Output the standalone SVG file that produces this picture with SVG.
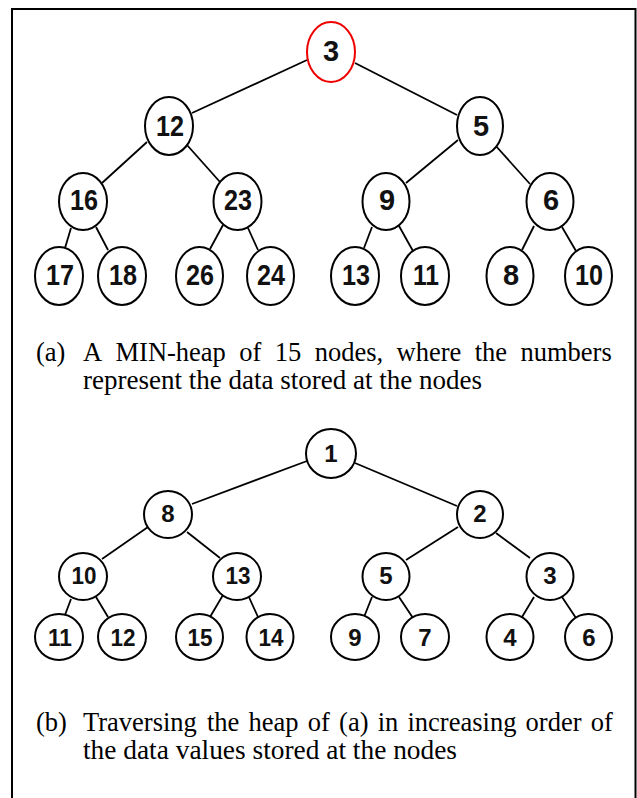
<svg xmlns="http://www.w3.org/2000/svg" width="637" height="798" viewBox="0 0 637 798">
<style>
.n{fill:#fff;stroke:#000;stroke-width:2}
.r{fill:#fff;stroke:#e00;stroke-width:2}
.t{font-family:"Liberation Sans",Arial,sans-serif;font-weight:bold;font-size:29px;text-anchor:middle;fill:#111}
.s{font-family:"Liberation Sans",Arial,sans-serif;font-weight:bold;font-size:24px;text-anchor:middle;fill:#111}
.e line{stroke:#000;stroke-width:1.8}
.c{font-family:"Liberation Serif","Times New Roman",serif;font-size:26.5px;fill:#000}
</style>
<rect x="12" y="9" width="623.5" height="810" fill="#fff" stroke="#000" stroke-width="2"/>
<g id="edges" class="e">
<line x1="307" y1="60" x2="192" y2="113"/>
<line x1="355" y1="63" x2="457" y2="115"/>
<line x1="147" y1="142" x2="102" y2="183"/>
<line x1="187" y1="145" x2="220" y2="182"/>
<line x1="458" y1="140" x2="406" y2="183"/>
<line x1="495" y1="145" x2="530" y2="184"/>
<line x1="71" y1="228" x2="65" y2="248"/>
<line x1="96" y1="227" x2="108" y2="250"/>
<line x1="223" y1="225" x2="210" y2="249"/>
<line x1="248" y1="228" x2="258" y2="250"/>
<line x1="372" y1="227" x2="364" y2="248"/>
<line x1="399" y1="226" x2="413" y2="251"/>
<line x1="534" y1="226" x2="522" y2="250"/>
<line x1="562" y1="227" x2="576" y2="251"/>
<line x1="307" y1="461" x2="192" y2="504"/>
<line x1="355" y1="463" x2="457" y2="506"/>
<line x1="148" y1="527" x2="102" y2="559"/>
<line x1="187" y1="532" x2="220" y2="558"/>
<line x1="458" y1="527" x2="406" y2="560"/>
<line x1="496" y1="533" x2="530" y2="558"/>
<line x1="71" y1="599" x2="65" y2="615"/>
<line x1="96" y1="597" x2="108" y2="617"/>
<line x1="223" y1="595" x2="210" y2="617"/>
<line x1="248" y1="595" x2="258" y2="617"/>
<line x1="372" y1="597" x2="364" y2="617"/>
<line x1="399" y1="597" x2="413" y2="618"/>
<line x1="534" y1="597" x2="522" y2="617"/>
<line x1="562" y1="597" x2="576" y2="618"/>
</g>
<g id="a3"><ellipse class="r" cx="331" cy="52" rx="24" ry="30"/><text class="t" x="331" y="61">3</text></g>
<g id="a12"><ellipse class="n" cx="169" cy="126" rx="24" ry="29"/><text class="t" x="170" y="136" textLength="28" lengthAdjust="spacingAndGlyphs">12</text></g>
<g id="a5"><ellipse class="n" cx="480" cy="126" rx="23" ry="29"/><text class="t" x="481" y="136">5</text></g>
<g id="a16"><ellipse class="n" cx="83" cy="201.5" rx="24" ry="28.5"/><text class="t" x="84" y="210" textLength="28" lengthAdjust="spacingAndGlyphs">16</text></g>
<g id="a23"><ellipse class="n" cx="237.5" cy="201.5" rx="24" ry="28.5"/><text class="t" x="238" y="210" textLength="28" lengthAdjust="spacingAndGlyphs">23</text></g>
<g id="a9"><ellipse class="n" cx="386" cy="201.5" rx="23.5" ry="28.5"/><text class="t" x="387" y="210">9</text></g>
<g id="a6"><ellipse class="n" cx="550" cy="201.5" rx="23.5" ry="28.5"/><text class="t" x="551" y="210">6</text></g>
<g id="a17"><ellipse class="n" cx="59" cy="276" rx="24" ry="29"/><text class="t" x="60" y="285" textLength="28" lengthAdjust="spacingAndGlyphs">17</text></g>
<g id="a18"><ellipse class="n" cx="122" cy="276" rx="24" ry="29"/><text class="t" x="123" y="285" textLength="28" lengthAdjust="spacingAndGlyphs">18</text></g>
<g id="a26"><ellipse class="n" cx="199.5" cy="276" rx="23.5" ry="29"/><text class="t" x="200" y="285" textLength="28" lengthAdjust="spacingAndGlyphs">26</text></g>
<g id="a24"><ellipse class="n" cx="270.5" cy="276" rx="23.5" ry="29"/><text class="t" x="271" y="285" textLength="28" lengthAdjust="spacingAndGlyphs">24</text></g>
<g id="a13"><ellipse class="n" cx="355" cy="276" rx="24" ry="29"/><text class="t" x="356" y="285" textLength="28" lengthAdjust="spacingAndGlyphs">13</text></g>
<g id="a11"><ellipse class="n" cx="425" cy="276" rx="24" ry="29"/><text class="t" x="426" y="285" textLength="26" lengthAdjust="spacingAndGlyphs">11</text></g>
<g id="a8"><ellipse class="n" cx="510" cy="276" rx="23.5" ry="29"/><text class="t" x="511" y="285">8</text></g>
<g id="a10"><ellipse class="n" cx="588.5" cy="276" rx="23.5" ry="29"/><text class="t" x="589" y="285" textLength="28" lengthAdjust="spacingAndGlyphs">10</text></g>
<text class="c" x="36" y="361">(a)</text>
<text class="c" y="361"><tspan x="83">A</tspan><tspan x="115.5">MIN-heap</tspan><tspan x="239.3">of</tspan><tspan x="274.8">15</tspan><tspan x="314.7">nodes,</tspan><tspan x="396.6">where</tspan><tspan x="474.7">the</tspan><tspan x="520.5">numbers</tspan></text>
<text class="c" x="83" y="389" textLength="399" lengthAdjust="spacingAndGlyphs">represent the data stored at the nodes</text>
<g id="b1"><ellipse class="n" cx="331" cy="453.5" rx="25" ry="24.5"/><text class="s" x="331" y="462">1</text></g>
<g id="b8"><ellipse class="n" cx="168" cy="514.5" rx="24" ry="23.5"/><text class="s" x="168" y="522">8</text></g>
<g id="b2"><ellipse class="n" cx="480" cy="514.5" rx="23" ry="23.5"/><text class="s" x="480" y="522">2</text></g>
<g id="b10"><ellipse class="n" cx="83" cy="576.5" rx="24" ry="23.5"/><text class="s" x="84" y="584" textLength="25" lengthAdjust="spacingAndGlyphs">10</text></g>
<g id="b13"><ellipse class="n" cx="237" cy="576.5" rx="24" ry="23.5"/><text class="s" x="238" y="584" textLength="25" lengthAdjust="spacingAndGlyphs">13</text></g>
<g id="b5"><ellipse class="n" cx="386" cy="576.5" rx="23.5" ry="23.5"/><text class="s" x="386" y="584">5</text></g>
<g id="b3"><ellipse class="n" cx="550" cy="576.5" rx="23.5" ry="23.5"/><text class="s" x="550" y="584">3</text></g>
<g id="b11"><ellipse class="n" cx="59" cy="637" rx="24" ry="23"/><text class="s" x="60" y="646" textLength="24" lengthAdjust="spacingAndGlyphs">11</text></g>
<g id="b12"><ellipse class="n" cx="122" cy="637" rx="24" ry="23"/><text class="s" x="123" y="646" textLength="25" lengthAdjust="spacingAndGlyphs">12</text></g>
<g id="b15"><ellipse class="n" cx="199.5" cy="637" rx="23.5" ry="23"/><text class="s" x="200" y="646" textLength="25" lengthAdjust="spacingAndGlyphs">15</text></g>
<g id="b14"><ellipse class="n" cx="270" cy="637" rx="23.5" ry="23"/><text class="s" x="271" y="646" textLength="25" lengthAdjust="spacingAndGlyphs">14</text></g>
<g id="b9"><ellipse class="n" cx="355" cy="637" rx="24" ry="23"/><text class="s" x="355" y="646">9</text></g>
<g id="b7"><ellipse class="n" cx="425" cy="637" rx="24" ry="23"/><text class="s" x="425" y="646">7</text></g>
<g id="b4"><ellipse class="n" cx="510" cy="637" rx="23.5" ry="23"/><text class="s" x="510" y="646">4</text></g>
<g id="b6"><ellipse class="n" cx="588.5" cy="637" rx="23.5" ry="23"/><text class="s" x="589" y="646">6</text></g>
<text class="c" x="36" y="731">(b)</text>
<text class="c" y="731"><tspan x="83">Traversing</tspan><tspan x="207">the</tspan><tspan x="248.6">heap</tspan><tspan x="307.8">of</tspan><tspan x="339.1">(a)</tspan><tspan x="377.7">in</tspan><tspan x="407.5">increasing</tspan><tspan x="525.6">order</tspan><tspan x="590.7">of</tspan></text>
<text class="c" x="83" y="759" textLength="374" lengthAdjust="spacingAndGlyphs">the data values stored at the nodes</text>
</svg>
